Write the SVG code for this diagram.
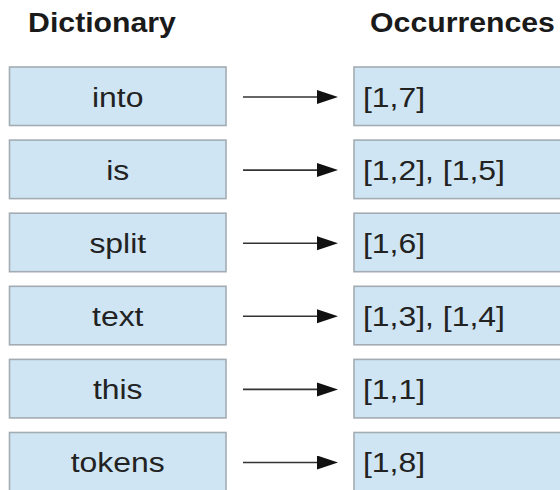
<svg xmlns="http://www.w3.org/2000/svg" width="560" height="490" viewBox="0 0 560 490">
  <style>
    .box { fill: #cfe5f3; stroke: #a3acb3; stroke-width: 1.6; }
    .hdr { font-family: "Liberation Sans", Arial, sans-serif; font-weight: bold; font-size: 27px; fill: #1a1a1a; }
    .lbl { font-family: "Liberation Sans", Arial, sans-serif; font-size: 28px; fill: #222; }
    .mid { text-anchor: middle; }
    .conn line { stroke: #333; stroke-width: 1.6; marker-end: url(#head); }
  </style>
  <defs>
    <marker id="head" markerUnits="userSpaceOnUse" markerWidth="22" markerHeight="16" refX="0" refY="7" orient="auto">
      <path d="M0,0 L21,7 L0,14 z" fill="#111"/>
    </marker>
  </defs>
  <rect width="560" height="490" fill="#fff"/>

  <!-- column headings -->
  <text class="hdr mid" transform="translate(102,31.5) scale(1.12,1)">Dictionary</text>
  <text class="hdr mid" transform="translate(462.5,31.5) scale(1.12,1)">Occurrences</text>

  <!-- dictionary terms -->
  <g id="term-into"><rect class="box" x="9.5" y="67" width="216.5" height="58.5"/><text class="lbl mid" transform="translate(117.75,106.5) scale(1.14,1)">into</text></g>
  <g id="term-is"><rect class="box" x="9.5" y="140.1" width="216.5" height="58.5"/><text class="lbl mid" transform="translate(117.75,179.6) scale(1.14,1)">is</text></g>
  <g id="term-split"><rect class="box" x="9.5" y="213.2" width="216.5" height="58.5"/><text class="lbl mid" transform="translate(117.75,252.7) scale(1.14,1)">split</text></g>
  <g id="term-text"><rect class="box" x="9.5" y="286.3" width="216.5" height="58.5"/><text class="lbl mid" transform="translate(117.75,325.8) scale(1.14,1)">text</text></g>
  <g id="term-this"><rect class="box" x="9.5" y="359.4" width="216.5" height="58.5"/><text class="lbl mid" transform="translate(117.75,398.9) scale(1.14,1)">this</text></g>
  <g id="term-tokens"><rect class="box" x="9.5" y="432.5" width="216.5" height="58.5"/><text class="lbl mid" transform="translate(117.75,472) scale(1.14,1)">tokens</text></g>

  <!-- posting lists -->
  <g id="occ-into"><rect class="box" x="354" y="67" width="220" height="58.5"/><text class="lbl" transform="translate(363,106.5) scale(1.14,1)">[1,7]</text></g>
  <g id="occ-is"><rect class="box" x="354" y="140.1" width="220" height="58.5"/><text class="lbl" transform="translate(363,179.6) scale(1.14,1)">[1,2], [1,5]</text></g>
  <g id="occ-split"><rect class="box" x="354" y="213.2" width="220" height="58.5"/><text class="lbl" transform="translate(363,252.7) scale(1.14,1)">[1,6]</text></g>
  <g id="occ-text"><rect class="box" x="354" y="286.3" width="220" height="58.5"/><text class="lbl" transform="translate(363,325.8) scale(1.14,1)">[1,3], [1,4]</text></g>
  <g id="occ-this"><rect class="box" x="354" y="359.4" width="220" height="58.5"/><text class="lbl" transform="translate(363,398.9) scale(1.14,1)">[1,1]</text></g>
  <g id="occ-tokens"><rect class="box" x="354" y="432.5" width="220" height="58.5"/><text class="lbl" transform="translate(363,472) scale(1.14,1)">[1,8]</text></g>

  <!-- term to posting-list arrows -->
  <g class="conn" id="connectors">
    <line x1="243" y1="97" x2="317" y2="97"/>
    <line x1="243" y1="170.1" x2="317" y2="170.1"/>
    <line x1="243" y1="243.2" x2="317" y2="243.2"/>
    <line x1="243" y1="316.3" x2="317" y2="316.3"/>
    <line x1="243" y1="389.4" x2="317" y2="389.4"/>
    <line x1="243" y1="462.5" x2="317" y2="462.5"/>
  </g>
</svg>
